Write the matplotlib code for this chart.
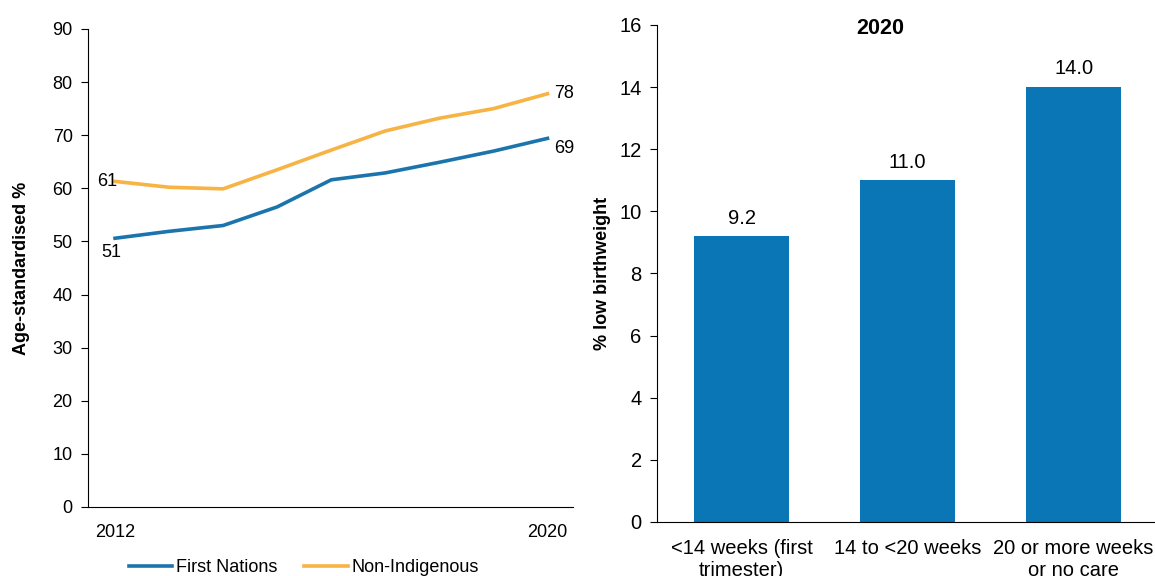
import matplotlib
matplotlib.use("Agg")
import matplotlib.pyplot as plt

# left panel: age-standardised % over time
years = [2012, 2013, 2014, 2015, 2016, 2017, 2018, 2019, 2020]
first_nations = [50.6, 51.9, 53.0, 56.5, 61.6, 62.9, 64.9, 67.0, 69.4]
non_indigenous = [61.3, 60.2, 59.9, 63.5, 67.2, 70.8, 73.2, 75.0, 77.8]

# right panel: low birthweight by timing of first antenatal visit, 2020
categories = ["<14 weeks (first\ntrimester)", "14 to <20 weeks",
              "20 or more weeks\nor no care"]
low_bw = [9.2, 11.0, 14.0]

BLUE_LINE = "#1B75AC"
ORANGE = "#F7B343"
BLUE_BAR = "#0A76B6"

plt.rcParams["font.family"] = ["Liberation Sans", "DejaVu Sans"]

fig = plt.figure(figsize=(11.55, 5.76), dpi=100)

# ---- left chart
ax1 = fig.add_axes([0.0762, 0.1198, 0.4198, 0.8299])
ax1.plot(years, first_nations, color=BLUE_LINE, lw=2.6, label="First Nations")
ax1.plot(years, non_indigenous, color=ORANGE, lw=2.6, label="Non-Indigenous")
ax1.set_xlim(2011.5, 2020.47)
ax1.set_ylim(0, 90)
ax1.set_yticks(range(0, 91, 10))
ax1.set_xticks([2012, 2020])
ax1.tick_params(axis="x", length=0, pad=12, labelsize=13)
ax1.tick_params(axis="y", length=5, pad=6, labelsize=13)
for s in ("top", "right"):
    ax1.spines[s].set_visible(False)
ax1.set_ylabel("Age-standardised %", fontsize=13, fontweight="bold", labelpad=16)

ax1.annotate(f"{non_indigenous[0]:.0f}", (years[0], non_indigenous[0]),
             xytext=(-6, 0), textcoords="offset points", ha="center",
             va="center", fontsize=13)
ax1.annotate(f"{first_nations[0]:.0f}", (years[0], first_nations[0]),
             xytext=(-3, -10), textcoords="offset points", ha="center",
             va="center", fontsize=13)
ax1.annotate(f"{non_indigenous[-1]:.0f}", (years[-1], non_indigenous[-1]),
             xytext=(5, 0), textcoords="offset points", ha="left",
             va="center", fontsize=13)
ax1.annotate(f"{first_nations[-1]:.0f}", (years[-1], first_nations[-1]),
             xytext=(5, -7), textcoords="offset points", ha="left",
             va="center", fontsize=13)

ax1.legend(loc="upper center", bbox_to_anchor=(0.445, -0.075), ncol=2,
           frameon=False, handlelength=2.4, handletextpad=0.2,
           columnspacing=1.5, fontsize=13)

# ---- right chart
ax2 = fig.add_axes([0.5688, 0.0938, 0.4312, 0.8628])
x = range(len(categories))
ax2.bar(x, low_bw, width=0.575, color=BLUE_BAR)
for xi, v in zip(x, low_bw):
    ax2.text(xi, v + 0.28, f"{v:.1f}", ha="center", va="bottom", fontsize=14.5)
ax2.set_xlim(-0.51, 2.49)
ax2.set_ylim(0, 16)
ax2.set_yticks(range(0, 17, 2))
ax2.set_xticks(list(x))
ax2.set_xticklabels(categories, fontsize=14.5, linespacing=1.2)
ax2.tick_params(axis="x", length=0, pad=12)
ax2.tick_params(axis="y", length=5, pad=6, labelsize=14.5)
for s in ("top", "right"):
    ax2.spines[s].set_visible(False)
ax2.set_ylabel("% low birthweight", fontsize=13, fontweight="bold", labelpad=6)
ax2.text(0.448, 0.993, "2020", transform=ax2.transAxes, ha="center",
         va="center", fontsize=15.5, fontweight="bold")

fig.savefig("out.png", dpi=100)
